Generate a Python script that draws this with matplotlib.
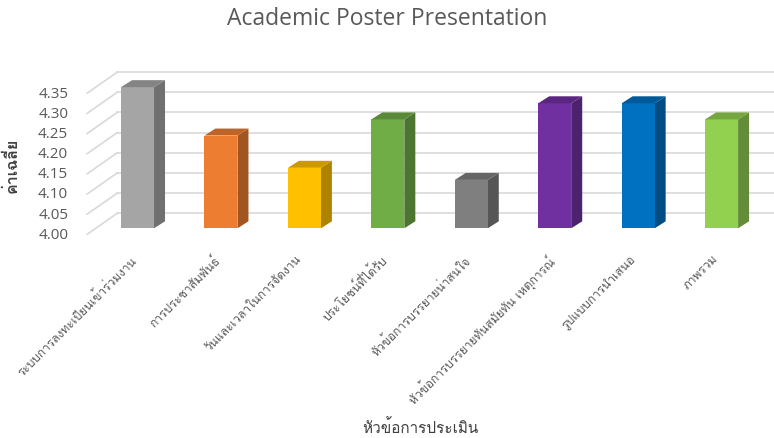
import matplotlib
matplotlib.use("Agg")
import matplotlib.pyplot as plt
from matplotlib import font_manager
from matplotlib.ft2font import FT2Font
from matplotlib.patches import Polygon
import matplotlib.colors as mcolors

# data
categories = [
    "ระบบการลงทะเบียนเข้าร่วมงาน",
    "การประชาสัมพันธ์",
    "วันและเวลาในการจัดงาน",
    "ประโยชน์ที่ได้รับ",
    "หัวข้อการบรรยายน่าสนใจ",
    "หัวข้อการบรรยายทันสมัยทัน เหตุการณ์",
    "รูปแบบการนำเสนอ",
    "ภาพรวม",
]
values = [4.35, 4.23, 4.15, 4.27, 4.12, 4.31, 4.31, 4.27]
bar_colors = ["#a5a5a5", "#ed7d31", "#ffc000", "#70ad47",
              "#7f7f7f", "#7030a0", "#0070c0", "#92d050"]
yticks = [4.00, 4.05, 4.10, 4.15, 4.20, 4.25, 4.30, 4.35]

title = "Academic Poster Presentation"
xlabel = "หัวข้อการประเมิน"
ylabel = "ค่าเฉลี่ย"


def find_thai_font():
    # pick any installed family that actually has Thai glyphs
    for f in font_manager.fontManager.ttflist:
        try:
            ft = FT2Font(f.fname)
            if ft.get_char_index(0x0E01) and ft.get_char_index(0x0E49):
                return f.name
        except Exception:
            pass
    return None


thai = find_thai_font()
fams = ([thai] if thai else []) + ["Open Sans", "DejaVu Sans"]
plt.rcParams["font.family"] = fams

W, H = 774, 439
fig = plt.figure(figsize=(W / 100, H / 100), dpi=100)

# axes box = plane of the bar front faces (pixel geometry from the reference)
AX_L, AX_R = 95.8, 763.3
AX_B, AX_T = 229.3, 68.0
ax = fig.add_axes([AX_L / W, 1 - AX_B / H, (AX_R - AX_L) / W, (AX_B - AX_T) / H])
ax.set_xlim(-0.5, len(categories) - 0.5)
ax.set_ylim(4.0, 4.40)
ax.axis("off")

px_x = (AX_R - AX_L) / len(categories)
px_y = (AX_B - AX_T) / 0.40

GRID = "#d9d9d9"
TXT = "#595959"

# back wall + left wall gridlines
for v in yticks:
    bx = -0.5 + 21.4 / px_x
    by = v + 15 / px_y
    ax.plot([bx, len(categories) + 1], [by, by], color=GRID, lw=1.2,
            clip_on=False, zorder=0)
    fx = -0.5 - 8.6 / px_x
    fy = v - 6 / px_y
    ax.plot([fx, bx], [fy, by], color=GRID, lw=1.2, clip_on=False, zorder=0)
    ax.text(fx - 19 / px_x, fy, f"{v:.2f}", ha="right", va="center",
            fontsize=11, color=TXT, family=["Open Sans", "DejaVu Sans"])

# 3D-looking bars
bw = 33 / px_x
ddx, ddy = 11 / px_x, 7 / px_y
xs = list(range(len(categories)))
ax.bar(xs, [v - 4.0 for v in values], bottom=4.0, width=bw,
       color=bar_colors, zorder=3)
for x, v, c in zip(xs, values, bar_colors):
    rgb = mcolors.to_rgb(c)
    side = tuple(ch * 0.68 for ch in rgb)
    top = tuple(ch * 0.80 for ch in rgb)
    r = x + bw / 2
    ax.add_patch(Polygon([(r, 4.0), (r, v), (r + ddx, v + ddy), (r + ddx, 4.0 + ddy)],
                         closed=True, facecolor=side, edgecolor="none", zorder=2))
    ax.add_patch(Polygon([(x - bw / 2, v), (r, v), (r + ddx, v + ddy), (x - bw / 2 + ddx, v + ddy)],
                         closed=True, facecolor=top, edgecolor="none", zorder=4))

# category labels
for x, lab in zip(xs, categories):
    ax.text(x - 8.6 / px_x, 4.0 - 24 / px_y, lab, rotation=45, rotation_mode="anchor",
            ha="right", va="top", fontsize=8.6, color=TXT)

fig.text(0.5, 1 - 19 / H, title, ha="center", va="center", fontsize=16.5, color=TXT,
         family=["Open Sans", "DejaVu Sans"])
fig.text(420 / W, 1 - 428 / H, xlabel, ha="center", va="center", fontsize=11, color="#404040")
fig.text(12 / W, 1 - 165 / H, ylabel, ha="center", va="center", rotation=90,
         fontsize=11.5, color="#404040", fontweight="bold")

fig.savefig("out.png", dpi=100, facecolor="white")
